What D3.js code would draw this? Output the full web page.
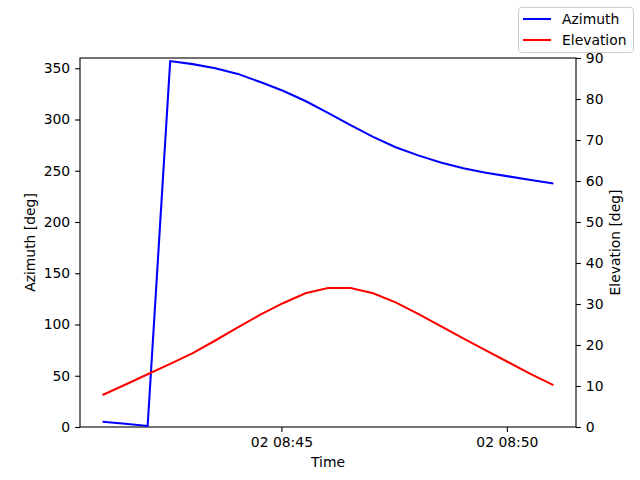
<!DOCTYPE html>
<html>
<head>
<meta charset="utf-8">
<script src="https://cdn.jsdelivr.net/npm/d3@7"></script>
<style>
  body { margin: 0; background: #fff; }
  text { font-family: "DejaVu Sans", sans-serif; }
</style>
</head>
<body>
<svg id="chart" width="640" height="480"></svg>
<script>
// samples every 30 s starting just after 08:41
var startTime = "2024-01-02T08:41:02";
var stepSeconds = 30;
var azimuth = [5.2, 3.1, 1.0, 357, 354, 350, 344.5, 336.5, 328, 318, 306.5,
               294.5, 283, 273, 265, 258, 252.5, 248, 244.5, 241, 237.5];
var elevation = [7.8, 10.3, 12.85, 15.4, 18.0, 21.1, 24.3, 27.4, 30.2, 32.6, 33.9,
                 33.9, 32.6, 30.4, 27.6, 24.6, 21.6, 18.7, 15.8, 12.9, 10.2];
var timeTicks = ["2024-01-02T08:45:00", "2024-01-02T08:50:00"];
var azTicks = [0, 50, 100, 150, 200, 250, 300, 350];
var elTicks = [0, 10, 20, 30, 40, 50, 60, 70, 80, 90];
var seriesNames = ["Azimuth", "Elevation"];
var seriesColors = ["blue", "red"];

// plot box (window.top is reserved, so no "top" here)
var pLeft = 80, pRight = 576, pTop = 58, pBottom = 427;
var svg = d3.select("#chart");

var t0 = new Date(startTime);
var times = azimuth.map(function(d, i){ return new Date(t0.getTime() + i*stepSeconds*1000); });

// matplotlib style 5% margin on x
var tExt = d3.extent(times);
var pad = (tExt[1] - tExt[0]) * 0.05;
var x = d3.scaleTime()
	.domain([new Date(tExt[0].getTime() - pad), new Date(tExt[1].getTime() + pad)])
	.range([pLeft, pRight]);
var yAz = d3.scaleLinear().domain([0, 360]).range([pBottom, pTop]);
var yEl = d3.scaleLinear().domain([0, 90]).range([pBottom, pTop]);

var fmt = d3.timeFormat("%d %H:%M");

var xAxis = svg.append("g")
	.attr("transform", "translate(0," + pBottom + ")")
	.call(d3.axisBottom(x).tickValues(timeTicks.map(function(s){ return new Date(s); }))
		.tickFormat(fmt).tickSizeOuter(0).tickSize(4.9).tickPadding(4.9));
var lAxis = svg.append("g")
	.attr("transform", "translate(" + pLeft + ",0)")
	.call(d3.axisLeft(yAz).tickValues(azTicks).tickSizeOuter(0).tickSize(4.9).tickPadding(4.9));
var rAxis = svg.append("g")
	.attr("transform", "translate(" + pRight + ",0)")
	.call(d3.axisRight(yEl).tickValues(elTicks).tickSizeOuter(0).tickSize(4.9).tickPadding(4.9));

[xAxis, lAxis, rAxis].forEach(function(g){
	g.select(".domain").remove();
	g.selectAll("line").attr("stroke", "#000").attr("stroke-width", 1.1);
	g.selectAll("text").attr("font-size", 13.9).attr("fill", "#000")
		.style("font-family", "DejaVu Sans, sans-serif");
});

// frame
svg.append("rect")
	.attr("x", pLeft).attr("y", pTop)
	.attr("width", pRight - pLeft).attr("height", pBottom - pTop)
	.attr("fill", "none").attr("stroke", "#000").attr("stroke-width", 1.1);

var azLine = d3.line().x(function(d, i){ return x(times[i]); }).y(function(d){ return yAz(d); });
var elLine = d3.line().x(function(d, i){ return x(times[i]); }).y(function(d){ return yEl(d); });

svg.append("path").datum(azimuth).attr("d", azLine)
	.attr("fill", "none").attr("stroke", seriesColors[0]).attr("stroke-width", 2.08);
svg.append("path").datum(elevation).attr("d", elLine)
	.attr("fill", "none").attr("stroke", seriesColors[1]).attr("stroke-width", 2.08);

// axis titles
svg.append("text").attr("x", (pLeft + pRight)/2).attr("y", 467)
	.attr("text-anchor", "middle").attr("font-size", 13.9).text("Time");
svg.append("text").attr("transform", "translate(35," + (pTop + pBottom)/2 + ") rotate(-90)")
	.attr("text-anchor", "middle").attr("font-size", 13.9).text("Azimuth [deg]");
svg.append("text").attr("transform", "translate(620," + (pTop + pBottom)/2 + ") rotate(-90)")
	.attr("text-anchor", "middle").attr("font-size", 13.9).text("Elevation [deg]");

// legend
var leg = svg.append("g");
leg.append("rect").attr("x", 518.5).attr("y", 7.5).attr("width", 115).attr("height", 45)
	.attr("rx", 3).attr("fill", "#fff").attr("fill-opacity", 0.8)
	.attr("stroke", "#ccc").attr("stroke-width", 1);
seriesNames.forEach(function(name, i){
	var yy = 19 + i*21;
	leg.append("line").attr("x1", 523).attr("x2", 551).attr("y1", yy).attr("y2", yy)
		.attr("stroke", seriesColors[i]).attr("stroke-width", 2.08);
	leg.append("text").attr("x", 562).attr("y", yy + 5).attr("font-size", 13.9).text(name);
});
</script>
</body>
</html>
